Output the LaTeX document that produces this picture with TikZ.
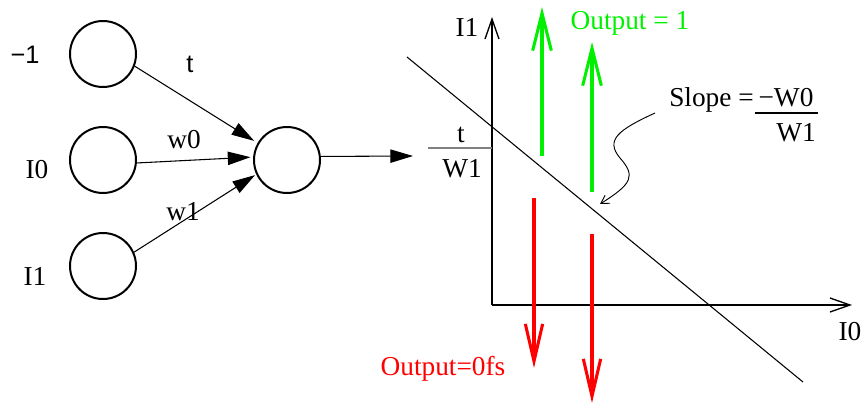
\documentclass[tikz,border=0pt]{standalone}
\usepackage{fontspec}
\setmainfont{Liberation Serif}
\newfontfamily\hvfont{Liberation Sans}
\usetikzlibrary{arrows.meta}
\definecolor{grn}{RGB}{0,240,0}
\definecolor{rd}{RGB}{255,0,0}
\begin{document}
\begin{tikzpicture}[x=0.75pt,y=-0.75pt,
  neuron/.style={circle,draw,line width=1.5pt,minimum size=49.5pt,inner sep=0pt},
  arr/.style={line width=0.8pt,-{Triangle[length=17pt,width=10pt]}},
  axis/.style={line width=1pt,-{Straight Barb[length=15pt,width=10.5pt,line width=1pt]}},
  gar/.style={grn,line width=2.3pt,-{Straight Barb[length=28pt,width=14pt,line width=2.3pt]}},
  rar/.style={rd,line width=2.3pt,-{Straight Barb[length=28pt,width=13pt,line width=2.3pt]}},
  serif/.style={font=\fontsize{20.5}{24}\selectfont,inner sep=0pt},
  sans/.style={font=\hvfont\fontsize{19}{22}\selectfont,inner sep=0pt}]
\useasboundingbox (0,0) rectangle (865,404);

% neurons
\node[neuron] (n1) at (103,54) {};
\node[neuron] (n0) at (103,160) {};
\node[neuron] (n2) at (103,266) {};
\node[neuron] (out) at (287,160) {};

% left labels
\node[sans,anchor=base] (lm1) at (25,63) {−1};
\node[serif,anchor=base] (lI0) at (37,178) {I0};
\node[serif,anchor=base] (lI1) at (35,285) {I1};
\node[sans,anchor=base] (lt) at (190,72) {t};
\node[serif,anchor=base] (lw0) at (184,148) {w0};
\node[serif,anchor=base] (lw1) at (183,220) {w1};

% connections
\draw[arr,shorten >=3pt] (n1.-21) -- (out.150);
\draw[arr,shorten >=2pt] (n0.-5) -- (out.175);
\draw[arr,shorten >=1pt] (n2.24) -- (out.205);
\coordinate (outend) at (413,156);
\draw[arr] (out.6) -- (outend);

% axes
\coordinate (O) at (492,305);
\coordinate (ytop) at (492,17);
\coordinate (xend) at (852,305);
\draw[axis] (O) -- (ytop);
\draw[axis] (O) -- (xend);
\node[serif,anchor=base] (aI1) at (467,36) {I1};
\node[serif,anchor=base] (aI0) at (850,340) {I0};

% decision line
\coordinate (ls) at (407,57);
\coordinate (le) at (803,382);
\draw[line width=0.8pt] (ls) -- (le);

% t / W1
\coordinate (fb1) at (428,148);
\coordinate (fb2) at (492,148);
\draw[gray,line width=1.2pt] (fb1) -- (fb2);
\node[serif,anchor=base] (ft) at (461,142) {t};
\node[serif,anchor=base] (fW1) at (462,177) {W1};

% green arrows
\coordinate (g1s) at (542,156);
\coordinate (g1e) at (542,7);
\coordinate (g2s) at (592,192);
\coordinate (g2e) at (592,42);
\draw[gar] (g1s) -- (g1e);
\draw[gar] (g2s) -- (g2e);
\node[serif,anchor=base,text=grn] (o1) at (630,29) {Output = 1};

% red arrows
\coordinate (r1s) at (534,198);
\coordinate (r1e) at (534,368);
\coordinate (r2s) at (592,234);
\coordinate (r2e) at (592,403);
\draw[rar] (r1s) -- (r1e);
\draw[rar] (r2s) -- (r2e);
\node[serif,anchor=base,text=rd] (o0) at (443,375) {Output=0fs};

% slope label
\node[serif,anchor=base west] (sl) at (669,106) {Slope =};
\node[serif,anchor=base] (sw0) at (786,106) {−W0};
\coordinate (sb1) at (755,113);
\coordinate (sb2) at (818,113);
\draw[line width=1pt] (sb1) -- (sb2);
\node[serif,anchor=base] (sw1) at (796,141) {W1};

% curly pointer
\coordinate (cs) at (655,113);
\coordinate (ce) at (600,204);
\draw[line width=0.7pt,-{Straight Barb[length=6pt,width=7pt,line width=0.7pt]}]
  (cs) .. controls (618,130) and (605,140) .. (620,158)
       .. controls (636,176) and (632,184) .. (ce);
\end{tikzpicture}
\end{document}
